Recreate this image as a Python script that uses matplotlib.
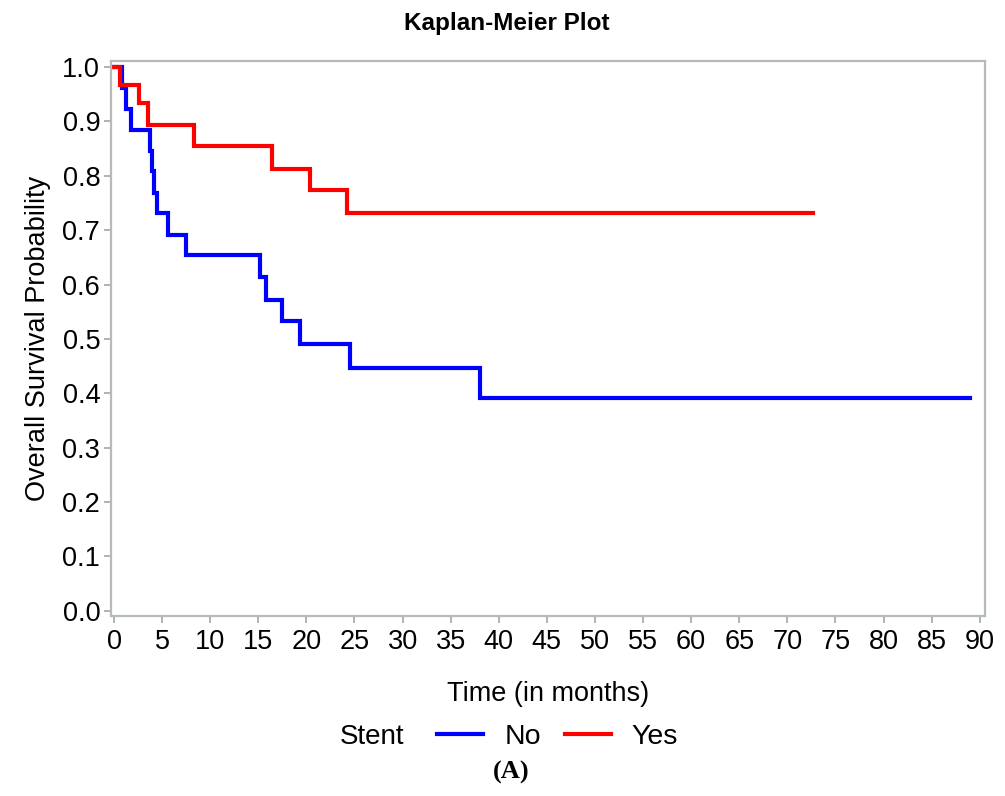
import matplotlib
matplotlib.use("Agg")
import matplotlib.pyplot as plt
from matplotlib.lines import Line2D

plt.rcParams['font.family'] = ['Liberation Sans', 'DejaVu Sans']

# Data
no_times = [0, 0.87, 1.2, 1.73, 3.74, 3.98, 4.19, 4.43, 5.65, 7.48, 15.2, 15.75, 17.5, 19.3, 24.5, 38.0, 89.0]
no_surv = [1.0, 0.962, 0.923, 0.885, 0.846, 0.808, 0.769, 0.731, 0.692, 0.654, 0.613, 0.572, 0.532, 0.490, 0.446, 0.391, 0.391]
yes_times = [0, 0.62, 2.6, 3.57, 8.35, 16.45, 20.4, 24.25, 72.7]
yes_surv = [1.0, 0.967, 0.933, 0.893, 0.855, 0.813, 0.773, 0.732, 0.732]
x_ticks = list(range(0, 91, 5))
y_ticks = [i / 10 for i in range(11)]
group_labels = ["No", "Yes"]
group_colors = ["#0000ff", "#ff0000"]

fig = plt.figure(figsize=(10.05, 7.96), dpi=100)
ax = fig.add_axes([0.1101, 0.2261, 0.8700, 0.6976])

ax.step(no_times, no_surv, where='post', color=group_colors[0], lw=3.0, solid_joinstyle='miter')
ax.step(yes_times, yes_surv, where='post', color=group_colors[1], lw=3.0, solid_joinstyle='miter')

ax.set_xlim(-0.35, 90.55)
ax.set_ylim(-0.0097, 1.0116)
ax.set_xticks(x_ticks)
ax.set_yticks(y_ticks)
ax.set_yticklabels([f"{v:.1f}" for v in y_ticks])
ax.tick_params(axis='both', direction='out', length=5, width=1.3, color='#a8adb0',
               labelsize=19.5, pad=2.5)
ax.tick_params(axis='x', pad=4)
for s in ax.spines.values():
    s.set_color('#b4babd')
    s.set_linewidth(1.6)

ax.set_xlabel("Time (in months)", fontsize=19.5, labelpad=19)
ax.set_ylabel("Overall Survival Probability", fontsize=19.5, labelpad=8)

fig.text(0.5045, 0.970, "Kaplan-Meier Plot", ha='center', va='center', fontsize=17.5, fontweight='bold')

fig.text(0.370, 0.0745, "Stent", ha='center', va='center', fontsize=20)
handles = [Line2D([], [], color=c, lw=3.0) for c in group_colors]
fig.legend(handles, group_labels, loc='center', bbox_to_anchor=(0.555, 0.0745), ncol=2,
           frameon=False, fontsize=20.5, handlelength=1.6, handletextpad=0.75,
           columnspacing=0.85, borderpad=0, borderaxespad=0)

fig.text(0.5085, 0.029, "(A)", ha='center', va='center', fontsize=19,
         fontweight='bold', family=['Liberation Serif', 'DejaVu Serif'])

fig.savefig("out.png", dpi=100)
